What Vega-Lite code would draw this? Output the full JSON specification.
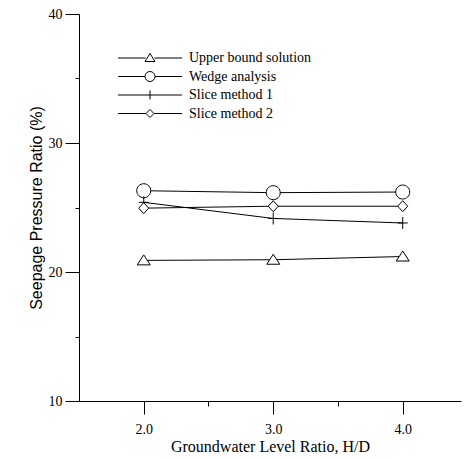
{
  "$schema": "https://vega.github.io/schema/vega-lite/v6.json",
  "autosize": "none",
  "padding": {"left": 79, "top": 14, "right": 4, "bottom": 58},
  "width": 382,
  "height": 387,
  "background": "white",
  "config": {
    "view": {"stroke": null},
    "font": "Liberation Serif",
    "axis": {"grid": false, "domainColor": "black", "tickColor": "black", "labelColor": "black", "titleColor": "black", "labelFont": "Liberation Serif", "titleFont": "Liberation Serif", "labelFontSize": 14, "titleFontSize": 16, "titleFontWeight": "normal", "domainWidth": 1, "tickWidth": 1}
  },
  "data": {
    "values": [
      {"x": 2.0, "y": 20.9, "series": "Upper bound solution"},
      {"x": 3.0, "y": 20.95, "series": "Upper bound solution"},
      {"x": 4.0, "y": 21.2, "series": "Upper bound solution"},
      {"x": 2.0, "y": 26.3, "series": "Wedge analysis"},
      {"x": 3.0, "y": 26.15, "series": "Wedge analysis"},
      {"x": 4.0, "y": 26.2, "series": "Wedge analysis"},
      {"x": 2.0, "y": 25.4, "series": "Slice method 1"},
      {"x": 3.0, "y": 24.15, "series": "Slice method 1"},
      {"x": 4.0, "y": 23.8, "series": "Slice method 1"},
      {"x": 2.0, "y": 24.95, "series": "Slice method 2"},
      {"x": 3.0, "y": 25.1, "series": "Slice method 2"},
      {"x": 4.0, "y": 25.1, "series": "Slice method 2"}
    ]
  },
  "encoding": {
    "x": {
      "field": "x", "type": "quantitative",
      "scale": {"domain": [1.5, 4.45], "nice": false, "zero": false},
      "axis": {
        "title": "Groundwater Level Ratio, H/D",
        "values": [2.0, 2.5, 3.0, 3.5, 4.0],
        "format": ".1f",
        "labelExpr": "datum.value % 1 === 0 ? format(datum.value, '.1f') : ''",
        "tickSize": {"condition": {"test": "datum.value % 1 === 0", "value": 13}, "value": 5},
        "labelPadding": 8,
        "titlePadding": 2
      }
    },
    "y": {
      "field": "y", "type": "quantitative",
      "scale": {"domain": [10, 40], "nice": false, "zero": false},
      "axis": {
        "title": "Seepage Pressure Ratio (%)",
        "titleFont": "Liberation Sans",
        "values": [10, 15, 20, 25, 30, 35, 40],
        "labelExpr": "datum.value % 10 === 0 ? datum.label : ''",
        "tickSize": {"condition": {"test": "datum.value % 10 === 0", "value": 14}, "value": 4},
        "labelPadding": 3,
        "titlePadding": 4
      }
    }
  },
  "layer": [
    {
      "mark": {"type": "line", "color": "black", "strokeWidth": 1},
      "encoding": {"detail": {"field": "series"}}
    },
    {
      "mark": {"type": "point", "filled": true, "fill": "white", "stroke": "black", "strokeWidth": 1, "size": 100, "opacity": 1},
      "encoding": {
        "shape": {
          "field": "series", "type": "nominal",
          "scale": {
            "domain": ["Upper bound solution", "Wedge analysis", "Slice method 1", "Slice method 2"],
            "range": [
              "M0,-1.1L1.3,0.9L-1.3,0.9Z",
              "M-1.4,0A1.4,1.4,0,1,0,1.4,0A1.4,1.4,0,1,0,-1.4,0Z",
              "M-1,0H1M0,-1.2V1.2",
              "M0,-1.1L1,0L0,1.1L-1,0Z"
            ]
          },
          "legend": null
        }
      }
    },
    {
      "transform": [{"filter": "datum.x > 100"}],
      "mark": {"type": "point", "filled": false, "color": "black", "strokeWidth": 1, "size": 100, "opacity": 1},
      "encoding": {
        "shape": {
          "field": "series", "type": "nominal",
          "scale": {
            "domain": ["Upper bound solution", "Wedge analysis", "Slice method 1", "Slice method 2"],
            "range": [
              "M-6.4,0H-0.9M0.9,0H6.4M0,-0.9L1,0.7L-1,0.7Z",
              "M-6.4,0H-1M1,0H6.4M-1,0A1,1,0,1,0,1,0A1,1,0,1,0,-1,0Z",
              "M-6.4,0H6.4M0,-0.9V0.9",
              "M-6.4,0H-0.8M0.8,0H6.4M0,-0.8L0.8,0L0,0.8L-0.8,0Z"
            ]
          },
          "legend": {
            "title": null,
            "orient": "none",
            "legendX": 64,
            "legendY": 37,
            "padding": 0,
            "symbolSize": 100,
            "symbolStrokeColor": "black",
            "symbolStrokeWidth": 1,
            "symbolOpacity": 1,
            "labelFont": "Liberation Serif",
            "labelFontSize": 14,
            "labelColor": "black",
            "labelOffset": 32,
            "rowPadding": 4.5
          }
        }
      }
    }
  ],
  "resolve": {"scale": {"shape": "independent"}}
}
